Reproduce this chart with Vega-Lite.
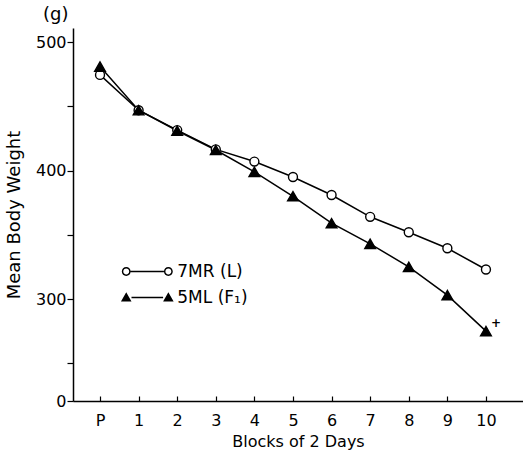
{
  "$schema": "https://vega.github.io/schema/vega-lite/v6.json",
  "width": 450,
  "height": 373,
  "autosize": "none",
  "padding": {"left": 73, "top": 28, "right": 0, "bottom": 51},
  "background": "white",
  "title": {"text": "(g)", "anchor": "start", "frame": "group", "dx": -30, "offset": 4, "fontSize": 18, "font": "DejaVu Sans", "fontWeight": "normal", "color": "black"},
  "config": {
    "view": {"stroke": null},
    "font": "DejaVu Sans",
    "axis": {
      "grid": false,
      "domainColor": "black",
      "tickColor": "black",
      "labelColor": "black",
      "titleColor": "black",
      "labelFont": "DejaVu Sans",
      "titleFont": "DejaVu Sans",
      "labelFontSize": 16,
      "titleFontSize": 16,
      "titleFontWeight": "normal",
      "domainWidth": 1.5,
      "tickWidth": 1.2
    }
  },
  "data": {
    "values": [
      {"block": 0, "weight": 474.5, "series": "7MR (L)"},
      {"block": 1, "weight": 447, "series": "7MR (L)"},
      {"block": 2, "weight": 431.5, "series": "7MR (L)"},
      {"block": 3, "weight": 416.5, "series": "7MR (L)"},
      {"block": 4, "weight": 407, "series": "7MR (L)"},
      {"block": 5, "weight": 395, "series": "7MR (L)"},
      {"block": 6, "weight": 381, "series": "7MR (L)"},
      {"block": 7, "weight": 364, "series": "7MR (L)"},
      {"block": 8, "weight": 352, "series": "7MR (L)"},
      {"block": 9, "weight": 339.5, "series": "7MR (L)"},
      {"block": 10, "weight": 323, "series": "7MR (L)"},
      {"block": 0, "weight": 481, "series": "5ML (F₁)"},
      {"block": 1, "weight": 447, "series": "5ML (F₁)"},
      {"block": 2, "weight": 431, "series": "5ML (F₁)"},
      {"block": 3, "weight": 416, "series": "5ML (F₁)"},
      {"block": 4, "weight": 399, "series": "5ML (F₁)"},
      {"block": 5, "weight": 380, "series": "5ML (F₁)"},
      {"block": 6, "weight": 359, "series": "5ML (F₁)"},
      {"block": 7, "weight": 343, "series": "5ML (F₁)"},
      {"block": 8, "weight": 325, "series": "5ML (F₁)"},
      {"block": 9, "weight": 303, "series": "5ML (F₁)"},
      {"block": 10, "weight": 275, "series": "5ML (F₁)"}
    ]
  },
  "encoding": {
    "x": {
      "field": "block",
      "type": "quantitative",
      "scale": {"domain": [-0.7, 10.96], "nice": false, "zero": false},
      "axis": {
        "values": [0, 1, 2, 3, 4, 5, 6, 7, 8, 9, 10],
        "labelExpr": "datum.value == 0 ? 'P' : datum.label",
        "title": "Blocks of 2 Days",
        "tickSize": -5,
        "labelPadding": 16,
        "titlePadding": 5
      }
    },
    "y": {
      "field": "weight",
      "type": "quantitative",
      "scale": {"domain": [220.6, 511], "nice": false, "zero": false},
      "axis": {
        "values": [220.6, 250, 300, 350, 400, 450, 500],
        "labelExpr": "datum.value < 230 ? '0' : (datum.value % 100 == 0 ? datum.label : '')",
        "title": "Mean Body Weight",
        "titleFontSize": 18,
        "tickSize": 6,
        "labelPadding": 1,
        "titlePadding": 12
      }
    }
  },
  "resolve": {"scale": {"shape": "independent"}, "legend": {"shape": "independent"}},
  "layer": [
    {
      "mark": {"type": "line", "color": "black", "strokeWidth": 1.5},
      "encoding": {"detail": {"field": "series"}}
    },
    {
      "mark": {"type": "point", "filled": true, "stroke": "black", "strokeWidth": 1.4, "opacity": 1},
      "encoding": {
        "shape": {
          "field": "series",
          "scale": {"domain": ["7MR (L)", "5ML (F₁)"], "range": ["circle", "triangle-up"]},
          "legend": null
        },
        "fill": {
          "field": "series",
          "scale": {"domain": ["7MR (L)", "5ML (F₁)"], "range": ["white", "black"]},
          "legend": null
        },
        "size": {
          "condition": {"test": "datum.series == '5ML (F₁)'", "value": 115},
          "value": 80
        }
      }
    },
    {
      "transform": [{"filter": "false"}],
      "mark": {"type": "point", "filled": true, "color": "black", "opacity": 1},
      "encoding": {
        "shape": {
          "field": "series",
          "scale": {
            "domain": ["7MR (L)", "5ML (F₁)"],
            "range": [
              "M-6.05,0 A1.05,1.05 0 1,1 -3.95,0 A1.05,1.05 0 1,1 -6.05,0 Z M-5.7,0 A0.7,0.7 0 1,0 -4.3,0 A0.7,0.7 0 1,0 -5.7,0 Z M-3.95,-0.17 L3.95,-0.17 L3.95,0.17 L-3.95,0.17 Z M3.95,0 A1.05,1.05 0 1,1 6.05,0 A1.05,1.05 0 1,1 3.95,0 Z M4.3,0 A0.7,0.7 0 1,0 5.7,0 A0.7,0.7 0 1,0 4.3,0 Z",
              "M-5,-1.25 L-3.75,0.95 L-6.25,0.95 Z M-3.75,-0.17 L3.75,-0.17 L3.75,0.17 L-3.75,0.17 Z M5,-1.25 L6.25,0.95 L3.75,0.95 Z"
            ]
          },
          "legend": {
            "orient": "none",
            "legendX": 65.8,
            "legendY": 235,
            "title": null,
            "padding": 0,
            "symbolSize": 71,
            "symbolFillColor": "black",
            "symbolStrokeWidth": 0,
            "symbolOpacity": 1,
            "labelOffset": 21.5,
            "labelFontSize": 17,
            "labelFont": "DejaVu Sans",
            "labelColor": "black",
            "rowPadding": 8
          }
        }
      }
    },
    {
      "data": {"values": [{"block": 10, "weight": 275, "note": "+"}]},
      "mark": {"type": "text", "dx": 10, "dy": -8, "fontSize": 12, "fontWeight": "bold", "color": "black"},
      "encoding": {"text": {"field": "note"}}
    }
  ]
}
